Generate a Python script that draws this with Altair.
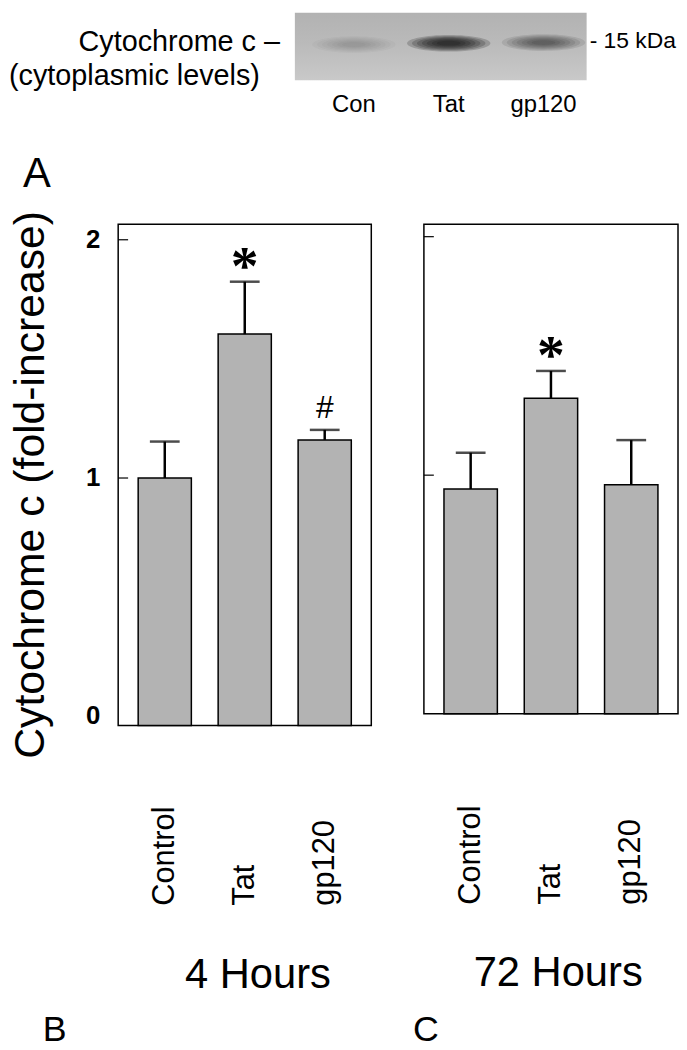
import altair as alt
import pandas as pd

# ---------------- data ----------------
categories = ["Control", "Tat", "gp120"]

mean_4h = [1.0, 1.604, 1.16]
upper_4h = [1.153, 1.824, 1.202]
sig_4h = ["", "*", "#"]

mean_72h = [0.942, 1.323, 0.96]
upper_72h = [1.094, 1.437, 1.147]
sig_72h = ["", "*", ""]

y_tick_values = [0, 1, 2]
y_tick_labels = ["0", "1", "2"]
inner_tick_values = [1, 2]
y_domain_4h = [-0.039, 2.065]
y_domain_72h = [0.0, 2.052]

lanes = ["Con", "Tat", "gp120"]
lane_pos = [0, 1, 2]
band_intensity = [0.15, 1.0, 0.5]
blot_extent = [-0.623, 2.455]      # blot edges in lane units
band_row = [0.47, 0.45, 0.44]      # band position within blot (0 = top, 1 = bottom)

FONT = "Liberation Sans"
ELLIPSE = "M -1 0 A 1 0.2 0 1 1 1 0 A 1 0.2 0 1 1 -1 0 Z"


def one(text):
    return pd.DataFrame({"t": [text]})


# ---------------- top: western blot ----------------
lane_df = pd.DataFrame({"lane": lanes, "pos": lane_pos,
                        "intensity": band_intensity, "row": band_row})
blot_df = pd.DataFrame({"x0": [blot_extent[0]], "x1": [blot_extent[1]],
                        "y0": [0.0], "y1": [1.0]})

xs_top = alt.Scale(domain=[-2.487, 3.419], nice=False, zero=False)
ys_top = alt.Scale(domain=[0, 1], reverse=True, nice=False, zero=False)

blot_bg = alt.Chart(blot_df).mark_rect(
    fill=alt.Gradient(gradient="linear", x1=0, x2=0, y1=0, y2=1,
                      stops=[alt.GradientStop(offset=0, color="#b2b2b2"),
                             alt.GradientStop(offset=0.45, color="#bababa"),
                             alt.GradientStop(offset=1, color="#c9c9c9")])
).encode(
    x=alt.X("x0:Q", scale=xs_top, axis=None), x2="x1:Q",
    y=alt.Y("y0:Q", scale=ys_top, axis=None), y2="y1:Q",
)

band_layers = []
for w in [84, 74, 64, 54, 44, 34, 24]:
    band_layers.append(
        alt.Chart(lane_df).mark_point(shape=ELLIPSE, filled=True, size=w * w,
                                      color="#111111", strokeWidth=0).encode(
            x=alt.X("pos:Q", scale=xs_top, axis=None),
            y=alt.Y("row:Q", scale=ys_top, axis=None),
            opacity=alt.Opacity("intensity:Q", legend=None,
                                scale=alt.Scale(domain=[0, 1], range=[0, 0.2])),
        )
    )

lane_labels = alt.Chart(lane_df).mark_text(
    font=FONT, fontSize=24, baseline="alphabetic", align="center", color="black"
).encode(x=alt.X("pos:Q", scale=xs_top, axis=None), y=alt.value(100), text="lane:N")

txt_cyt = alt.Chart(one("Cytochrome c –")).mark_text(
    font=FONT, fontSize=29, align="right", baseline="alphabetic", color="black"
).encode(x=alt.value(163), y=alt.value(38), text="t:N")
txt_cyto = alt.Chart(one("(cytoplasmic levels)")).mark_text(
    font=FONT, fontSize=29, align="left", baseline="alphabetic", color="black"
).encode(x=alt.value(-110), y=alt.value(73), text="t:N")
txt_kda = alt.Chart(one("- 15 kDa")).mark_text(
    font=FONT, fontSize=23, align="left", baseline="alphabetic", color="black"
).encode(x=alt.value(475), y=alt.value(35), text="t:N")
txt_A = alt.Chart(one("A")).mark_text(
    font=FONT, fontSize=42, align="left", baseline="alphabetic", color="black"
).encode(x=alt.value(-96), y=alt.value(175), text="t:N")

top = alt.layer(blot_bg, *band_layers, lane_labels, txt_cyt, txt_cyto, txt_kda, txt_A).properties(
    width=564, height=68, view=alt.ViewBackground(stroke="transparent")
)


# ---------------- bar panels ----------------
def panel(means, uppers, sigs, ydom, width, height, show_y, x_title, title_x, title_y,
          label_pad, letter, letter_x, letter_y):
    df = pd.DataFrame({"cat": categories, "mean": means, "upper": uppers, "sig": sigs})
    xsc = alt.Scale(domain=categories, paddingInner=0.335, paddingOuter=0.25)
    ysc = alt.Scale(domain=ydom, nice=False, zero=False)
    xax = alt.Axis(title=x_title, labelAngle=270, labelAlign="left", labelBaseline="middle",
                   labelPadding=label_pad, labelFontSize=31, labelFont=FONT, labelColor="black",
                   domain=False, ticks=False, tickSize=0, grid=False, labelOverlap=False,
                   titleFontSize=42, titleFont=FONT, titleFontWeight="normal", titleColor="black",
                   titleX=title_x, titleY=title_y, titleAlign="center", titleBaseline="alphabetic",
                   labelLimit=400, titleLimit=600)
    if show_y:
        yax = alt.Axis(values=y_tick_values, title="Cytochrome c (fold-increase)",
                       labels=False, ticks=False, tickSize=0, domain=False, grid=False,
                       titleFontSize=43, titleFont=FONT, titleFontWeight="normal", titleColor="black",
                       titleAngle=270, titleX=-75.6, titleY=262, titleAlign="center",
                       titleBaseline="alphabetic", titleLimit=1000)
    else:
        yax = None

    X = alt.X("cat:N", scale=xsc, axis=xax, sort=categories)

    def Y(field):
        return alt.Y(field, scale=ysc, axis=yax)

    bars = alt.Chart(df).mark_bar(fill="#b3b3b3", stroke="black", strokeWidth=1.5).encode(
        x=X, y=Y("mean:Q"), y2=alt.datum(ydom[0])
    )
    err = alt.Chart(df).mark_rule(color="black", strokeWidth=2.5).encode(
        x=X, y=Y("mean:Q"), y2="upper:Q"
    )
    cap = alt.Chart(df).mark_tick(orient="horizontal", size=30, thickness=2.5, color="black").encode(
        x=X, y=Y("upper:Q")
    )
    star = alt.Chart(df).transform_filter(alt.datum.sig == "*").mark_text(
        font="Liberation Serif", fontSize=56, baseline="alphabetic", align="center", color="black",
        fontWeight="bold", dy=2
    ).encode(x=X, y=Y("upper:Q"), text="sig:N")
    hashm = alt.Chart(df).transform_filter(alt.datum.sig == "#").mark_text(
        font=FONT, fontSize=32, baseline="alphabetic", align="center", dy=-12, color="black"
    ).encode(x=X, y=Y("upper:Q"), text="sig:N")
    ticks = alt.Chart(pd.DataFrame({"t": inner_tick_values})).mark_rule(
        color="black", strokeWidth=1.2
    ).encode(x=alt.value(0), x2=alt.value(10), y=Y("t:Q"))
    letter_txt = alt.Chart(one(letter)).mark_text(
        font=FONT, fontSize=36, align="left", baseline="alphabetic", color="black"
    ).encode(x=alt.value(letter_x), y=alt.value(letter_y), text="t:N")

    layers = [bars, err, cap, star, hashm, ticks, letter_txt]
    if show_y:
        tick_lab = alt.Chart(pd.DataFrame({"v": y_tick_values, "lab": y_tick_labels})).mark_text(
            font=FONT, fontSize=26, fontWeight="bold", align="right", baseline="middle",
            color="black"
        ).encode(x=alt.value(-18), y=Y("v:Q"), text="lab:N")
        layers.append(tick_lab)

    return alt.layer(*layers).properties(
        width=width, height=height,
        view=alt.ViewBackground(stroke="black", strokeWidth=1.5),
    )


left = panel(mean_4h, upper_4h, sig_4h, y_domain_4h, 255, 505, True, "4 Hours",
             140.3, 264, 181, "B", -76, 823)
right = panel(mean_72h, upper_72h, sig_72h, y_domain_72h, 256, 493, False, "72 Hours",
              134.8, 274, 192, "C", -11, 823)

bottom = alt.hconcat(left, right, spacing=53, bounds="flush").resolve_scale(
    x="independent", y="independent"
)

chart = alt.vconcat(top, bottom, spacing=145, bounds="flush").resolve_scale(
    x="independent", y="independent"
).properties(padding=0, background="white").configure(font=FONT)

chart.save("out.html", embed_options={"renderer": "svg", "actions": False})
